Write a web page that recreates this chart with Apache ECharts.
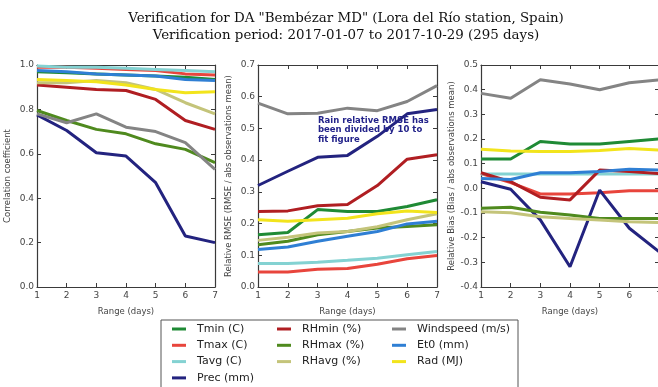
<!DOCTYPE html>
<html><head><meta charset="utf-8">
<script src="https://cdn.jsdelivr.net/npm/echarts@6/dist/echarts.min.js"></script>
<style>html,body{margin:0;padding:0;background:#fff}#c{width:658px;height:387px}</style>
</head><body><div id="c"></div>
<script>
const ranges = [1, 2, 3, 4, 5, 6, 7];
const seriesNames = ['Tmin (C)', 'Tmax (C)', 'Tavg (C)', 'Prec (mm)', 'RHmin (%)', 'RHmax (%)', 'RHavg (%)', 'Windspeed (m/s)', 'Et0 (mm)', 'Rad (MJ)'];
const seriesColors = ['#1f8a35', '#e8453c', '#84d2d2', '#23237f', '#b01e22', '#4f8a1e', '#c4c47a', '#848484', '#2f7fd4', '#f2e41c'];

// Correlation coefficient
const corrValues = [
  [0.970, 0.965, 0.960, 0.955, 0.950, 0.945, 0.935],
  [0.990, 0.990, 0.985, 0.980, 0.975, 0.960, 0.955],
  [0.995, 0.990, 0.990, 0.985, 0.980, 0.975, 0.970],
  [0.775, 0.705, 0.605, 0.590, 0.470, 0.230, 0.200],
  [0.910, 0.900, 0.890, 0.885, 0.845, 0.750, 0.710],
  [0.795, 0.750, 0.710, 0.690, 0.645, 0.620, 0.560],
  [0.920, 0.920, 0.930, 0.920, 0.890, 0.830, 0.780],
  [0.780, 0.740, 0.780, 0.720, 0.700, 0.650, 0.530],
  [0.975, 0.970, 0.960, 0.955, 0.950, 0.935, 0.930],
  [0.935, 0.930, 0.925, 0.910, 0.890, 0.875, 0.880]
];
// Relative RMSE
const rmseValues = [
  [0.165, 0.172, 0.244, 0.238, 0.238, 0.254, 0.275],
  [0.047, 0.047, 0.056, 0.058, 0.072, 0.089, 0.099],
  [0.074, 0.074, 0.078, 0.084, 0.091, 0.102, 0.112],
  [0.320, 0.365, 0.409, 0.415, 0.475, 0.546, 0.560],
  [0.238, 0.240, 0.256, 0.260, 0.320, 0.403, 0.417],
  [0.133, 0.144, 0.165, 0.175, 0.186, 0.191, 0.196],
  [0.147, 0.157, 0.170, 0.175, 0.190, 0.212, 0.231],
  [0.580, 0.546, 0.548, 0.564, 0.556, 0.585, 0.635],
  [0.118, 0.126, 0.144, 0.160, 0.175, 0.199, 0.207],
  [0.212, 0.207, 0.212, 0.217, 0.231, 0.240, 0.235]
];
// Relative bias
const biasValues = [
  [0.119, 0.119, 0.190, 0.180, 0.180, 0.190, 0.200],
  [0.060, 0.023, -0.023, -0.023, -0.018, -0.010, -0.010],
  [0.058, 0.058, 0.058, 0.058, 0.058, 0.058, 0.058],
  [0.027, -0.004, -0.128, -0.318, -0.007, -0.162, -0.257],
  [0.063, 0.027, -0.036, -0.047, 0.074, 0.068, 0.060],
  [-0.081, -0.077, -0.097, -0.108, -0.122, -0.122, -0.122],
  [-0.095, -0.099, -0.115, -0.122, -0.128, -0.135, -0.139],
  [0.385, 0.365, 0.440, 0.423, 0.400, 0.428, 0.440],
  [0.040, 0.036, 0.063, 0.063, 0.068, 0.077, 0.074],
  [0.158, 0.151, 0.149, 0.149, 0.153, 0.161, 0.155]
];
const panelValues = [corrValues, rmseValues, biasValues];
const panelYNames = ['Correlation coefficient', 'Relative RMSE (RMSE / abs observations mean)', 'Relative Bias (Bias / abs observations mean)'];
const panelYMin = [0, 0, -0.4];
const panelYMax = [1, 0.7, 0.5];
const panelYInterval = [0.2, 0.1, 0.1];
const xAxisName = 'Range (days)';
const titleText = 'Verification for DA "Bembézar MD" (Lora del Río station, Spain)\nVerification period: 2017-01-07 to 2017-10-29 (295 days)';
const noteText = 'Rain relative RMSE has\nbeen divided by 10 to\nfit figure';

const gridBoxes = [
  { left: 37, width: 178 },
  { left: 258, width: 179 },
  { left: 481, width: 178 }
];
const font = 'DejaVu Sans';
const frame = '#3a3a3a';

const grids = [], xAxes = [], yAxes = [], series = [];
for (let p = 0; p < 3; p++) {
  grids.push(Object.assign({ top: 65, height: 222, containLabel: false, outerBoundsMode: 'none' }, gridBoxes[p]));
  const tick = { show: true, inside: true, length: 4, lineStyle: { color: frame, width: 1 } };
  const line = { show: true, onZero: false, lineStyle: { color: frame, width: 1.2 } };
  xAxes.push({
    gridIndex: p, type: 'value', min: 1, max: 7, interval: 1, position: 'bottom',
    name: xAxisName, nameLocation: 'middle', nameGap: 20,
    nameTextStyle: { fontFamily: font, fontSize: 8.5, color: '#444' },
    axisLine: line, axisTick: tick, splitLine: { show: false },
    axisLabel: { fontFamily: font, fontSize: 9, color: '#444', margin: 4 }
  });
  xAxes.push({
    gridIndex: p, type: 'value', min: 1, max: 7, interval: 1, position: 'top',
    axisLine: line, axisTick: tick, splitLine: { show: false }, axisLabel: { show: false }
  });
  yAxes.push({
    gridIndex: p, type: 'value', min: panelYMin[p], max: panelYMax[p], interval: panelYInterval[p], position: 'left',
    name: panelYNames[p], nameLocation: 'middle', nameGap: 25, nameRotate: 90,
    nameTextStyle: { fontFamily: font, fontSize: 8.5, color: '#444' },
    axisLine: line, axisTick: tick, splitLine: { show: false },
    axisLabel: { fontFamily: font, fontSize: 9, color: '#444', margin: 3, formatter: v => v.toFixed(1) }
  });
  yAxes.push({
    gridIndex: p, type: 'value', min: panelYMin[p], max: panelYMax[p], interval: panelYInterval[p], position: 'right',
    axisLine: line, axisTick: tick, splitLine: { show: false }, axisLabel: { show: false }
  });
  const vals = panelValues[p];
  for (let k = 0; k < seriesNames.length; k++) {
    series.push({
      type: 'line', name: seriesNames[k], xAxisIndex: p * 2, yAxisIndex: p * 2,
      data: ranges.map((x, j) => [x, vals[k][j]]),
      symbol: 'none', showSymbol: false, color: seriesColors[k],
      lineStyle: { width: 3, color: seriesColors[k] }, silent: true, z: 2 + k
    });
  }
}

const legendCols = [
  { left: 172, names: seriesNames.slice(0, 4) },
  { left: 277, names: seriesNames.slice(4, 7) },
  { left: 392, names: seriesNames.slice(7, 10) }
];
const legends = legendCols.map(c => ({
  data: c.names, orient: 'vertical', left: c.left, top: 322.5, itemGap: 3.3, padding: 0,
  icon: 'rect', itemWidth: 14, itemHeight: 3, selectedMode: false,
  textStyle: { fontFamily: font, fontSize: 11, color: '#222', lineHeight: 13, padding: [0, 0, 0, 6] }
}));

const chart = echarts.init(document.getElementById('c'), null, { renderer: 'canvas' });
chart.setOption({
  animation: false,
  backgroundColor: '#fff',
  title: {
    text: titleText, left: 341, top: 5, textAlign: 'center',
    textStyle: { fontFamily: 'DejaVu Serif', fontSize: 13.4, fontWeight: 'normal', color: '#111', lineHeight: 17 }
  },
  grid: grids, xAxis: xAxes, yAxis: yAxes, series: series, legend: legends,
  graphic: [
    { type: 'rect', shape: { x: 161, y: 320, width: 357, height: 90 }, style: { fill: 'none', stroke: '#555', lineWidth: 1 }, z: 0 },
    { type: 'text', x: 318, y: 116, z: 100,
      style: { text: noteText, fill: '#23238a', font: 'bold 8.5px "DejaVu Sans"', lineHeight: 9.5 } }
  ]
});
</script></body></html>
